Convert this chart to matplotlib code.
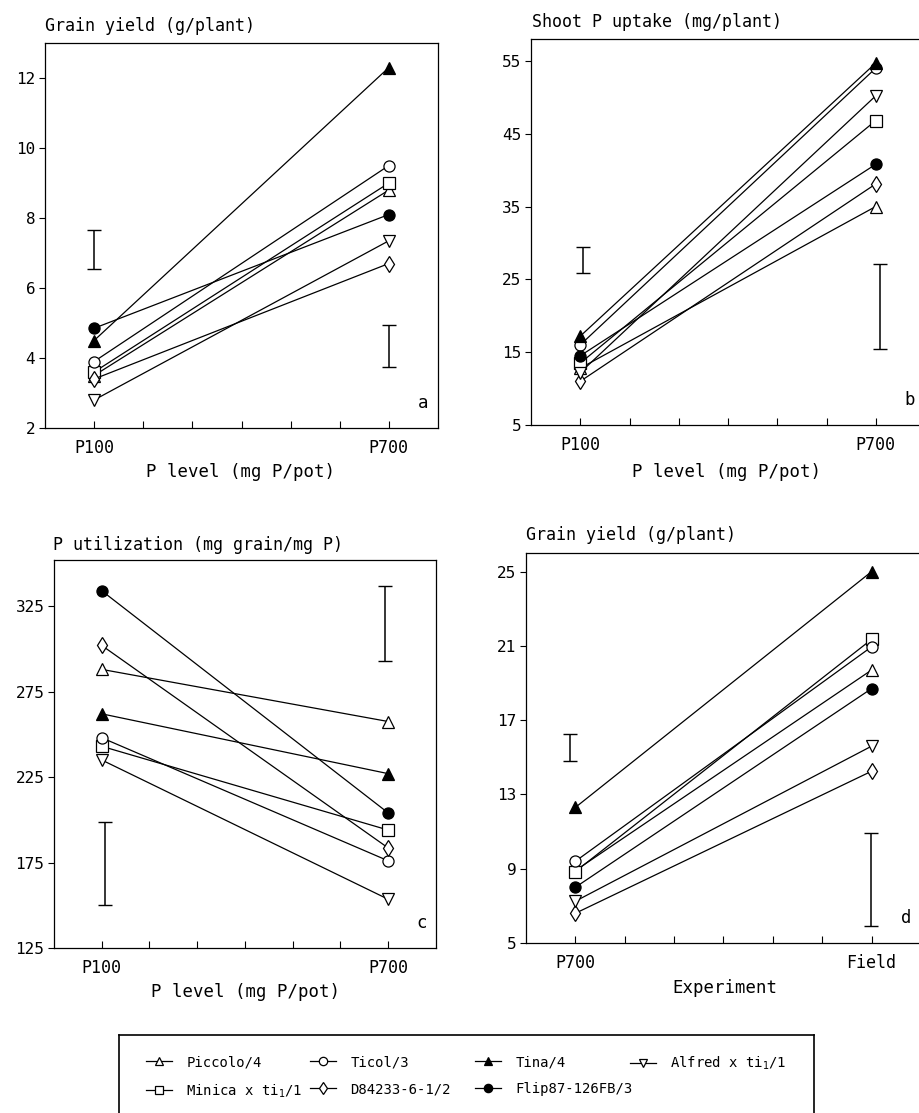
import matplotlib
matplotlib.use('Agg')
import matplotlib.pyplot as plt
from matplotlib.lines import Line2D

plt.rcParams['font.family'] = ['DejaVu Sans Mono', 'DejaVu Sans']

W, H = 920, 1113

genotypes = ['Piccolo/4', 'Minica x ti$_1$/1', 'Ticol/3', 'D84233-6-1/2',
             'Tina/4', 'Flip87-126FB/3', 'Alfred x ti$_1$/1']
markers = ['^', 's', 'o', 'd', '^', 'o', 'v']
filled = [False, False, False, False, True, True, False]
# legend columns as printed (column-wise, two rows)
legend_cols = [[0, 1], [2, 3], [4, 5], [6]]
legend_col_px = [146, 310, 475, 630]

# panel a: grain yield (g/plant), pot experiment
a_low = [3.5, 3.6, 3.9, 3.4, 4.5, 4.85, 2.8]
a_high = [8.8, 9.0, 9.5, 6.7, 12.3, 8.1, 7.35]
a_err_x = [100, 700]
a_err_lo = [6.55, 3.75]
a_err_hi = [7.65, 4.95]

# panel b: shoot P uptake (mg/plant)
b_low = [12.8, 13.5, 16.0, 11.0, 17.2, 14.5, 12.2]
b_high = [35.0, 46.8, 54.0, 38.1, 54.7, 40.8, 50.2]
b_err_x = [105, 709]
b_err_lo = [25.9, 15.4]
b_err_hi = [29.4, 27.1]

# panel c: P utilization (mg grain/mg P)
c_low = [288, 243, 248, 302, 262, 334, 235]
c_high = [257.5, 194, 176, 183.5, 227, 204, 153.5]
c_err_x = [106, 694]
c_err_lo = [150, 293]
c_err_hi = [199, 337]

# panel d: grain yield, pot P700 vs field
d_low = [8.9, 8.85, 9.4, 6.6, 12.3, 8.0, 7.25]
d_high = [19.7, 21.35, 20.95, 14.25, 25.0, 18.7, 15.6]
d_err_x = [90, 698]
d_err_lo = [14.8, 5.9]
d_err_hi = [16.25, 10.95]

x_levels = [100, 700]
minor_x = [100, 200, 300, 400, 500, 600, 700]


def px_axes(fig, left, top, right, bottom):
    return fig.add_axes([left / W, 1 - bottom / H, (right - left) / W, (bottom - top) / H])


def draw_panel(ax, low, high, err_x, err_lo, err_hi, ylim, yticks, xlabels, letter):
    for i in range(len(genotypes)):
        face = 'black' if filled[i] else 'white'
        ax.plot(x_levels, [low[i], high[i]], color='black', lw=0.9,
                marker=markers[i], markersize=8, markerfacecolor=face,
                markeredgecolor='black', markeredgewidth=0.9, zorder=3)
    mids = [(lo + hi) / 2 for lo, hi in zip(err_lo, err_hi)]
    half = [(hi - lo) / 2 for lo, hi in zip(err_lo, err_hi)]
    ax.errorbar(err_x, mids, yerr=half, fmt='none', ecolor='black',
                elinewidth=1.1, capsize=5, capthick=1.0)
    ax.set_xlim(0, 800)
    ax.set_ylim(*ylim)
    ax.set_yticks(yticks)
    ax.set_xticks(minor_x)
    ax.set_xticklabels([xlabels[0], '', '', '', '', '', xlabels[1]])
    ax.tick_params(axis='x', direction='in', length=5, width=0.8, pad=8, labelsize=12)
    ax.tick_params(axis='y', direction='out', length=4, width=0.8, pad=3, labelsize=11.5)
    for s in ax.spines.values():
        s.set_linewidth(0.9)
    ax.text(0.962, 0.065, letter, transform=ax.transAxes, fontsize=12.5,
            ha='center', va='center')


fig = plt.figure(figsize=(W / 100, H / 100), dpi=100)

ax_a = px_axes(fig, 45, 43, 438, 428)
draw_panel(ax_a, a_low, a_high, a_err_x, a_err_lo, a_err_hi, (2, 13),
           [2, 4, 6, 8, 10, 12], ['P100', 'P700'], 'a')
ax_b = px_axes(fig, 531, 39, 925, 425)
draw_panel(ax_b, b_low, b_high, b_err_x, b_err_lo, b_err_hi, (5, 58),
           [5, 15, 25, 35, 45, 55], ['P100', 'P700'], 'b')
ax_c = px_axes(fig, 54, 560, 436, 948)
draw_panel(ax_c, c_low, c_high, c_err_x, c_err_lo, c_err_hi, (125, 352),
           [125, 175, 225, 275, 325], ['P100', 'P700'], 'c')
ax_d = px_axes(fig, 526, 553, 921, 943)
draw_panel(ax_d, d_low, d_high, d_err_x, d_err_lo, d_err_hi, (5, 26),
           [5, 9, 13, 17, 21, 25], ['P700', 'Field'], 'd')

# y-axis titles sit above each panel
fig.text(45 / W, 1 - 26 / H, 'Grain yield (g/plant)', fontsize=12, va='center', ha='left')
fig.text(532 / W, 1 - 22 / H, 'Shoot P uptake (mg/plant)', fontsize=12, va='center', ha='left')
fig.text(53 / W, 1 - 545 / H, 'P utilization (mg grain/mg P)', fontsize=12, va='center', ha='left')
fig.text(526 / W, 1 - 535 / H, 'Grain yield (g/plant)', fontsize=12, va='center', ha='left')

fig.text(241 / W, 1 - 472 / H, 'P level (mg P/pot)', fontsize=12.5, va='center', ha='center')
fig.text(727 / W, 1 - 472 / H, 'P level (mg P/pot)', fontsize=12.5, va='center', ha='center')
fig.text(246 / W, 1 - 992 / H, 'P level (mg P/pot)', fontsize=12.5, va='center', ha='center')
fig.text(725 / W, 1 - 988 / H, 'Experiment', fontsize=12.5, va='center', ha='center')

# legend box, its bottom runs off the page
box = px_axes(fig, 119, 1035, 814, 1130)
box.set_xticks([])
box.set_yticks([])
box.patch.set_alpha(0)
for s in box.spines.values():
    s.set_linewidth(1.2)

for col, xpx in zip(legend_cols, legend_col_px):
    handles = []
    for i in col:
        face = 'black' if filled[i] else 'white'
        handles.append(Line2D([], [], color='black', lw=0.9, marker=markers[i],
                              markersize=6, markerfacecolor=face,
                              markeredgecolor='black', markeredgewidth=0.9,
                              label=genotypes[i]))
    fig.legend(handles=handles, ncol=1, loc='upper left',
               bbox_to_anchor=(xpx / W, 1 - 1055 / H), frameon=False,
               fontsize=10, handlelength=1.9, handletextpad=1.0,
               labelspacing=0.95, borderpad=0, borderaxespad=0, numpoints=1)

fig.savefig('out.png', dpi=100)
